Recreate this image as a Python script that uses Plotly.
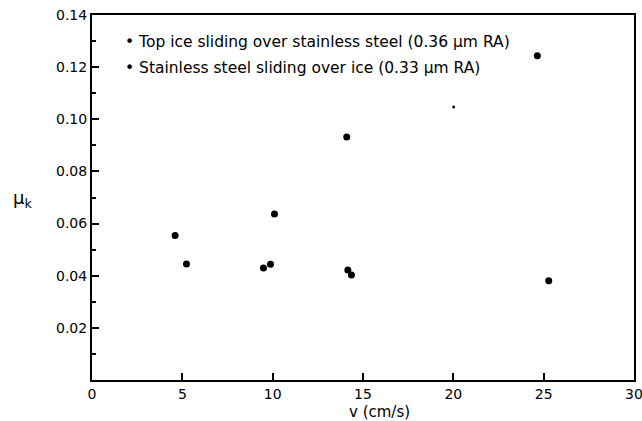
import plotly.graph_objects as go

# Kinetic friction coefficient vs sliding velocity
top_ice_v = [4.6, 10.1, 14.1, 24.65]
top_ice_mu = [0.0554, 0.0637, 0.0932, 0.1244]

steel_v = [5.23, 9.49, 9.88, 14.16, 14.36, 25.28]
steel_mu = [0.0445, 0.0430, 0.0444, 0.0422, 0.0403, 0.0381]

speck_v = [20.02]
speck_mu = [0.1047]

legend_labels = [
    "Top ice sliding over stainless steel (0.36 μm RA)",
    "Stainless steel sliding over ice (0.33 μm RA)",
]

x_ticks = [0, 5, 10, 15, 20, 25, 30]
y_ticks = [0.02, 0.04, 0.06, 0.08, 0.10, 0.12, 0.14]
y_tick_text = ["0.02", "0.04", "0.06", "0.08", "0.10", "0.12", "0.14"]

FONT = "DejaVu Sans"

fig = go.Figure()
fig.add_trace(go.Scatter(x=top_ice_v, y=top_ice_mu, mode="markers",
                         marker=dict(color="black", size=7),
                         name=legend_labels[0], showlegend=False))
fig.add_trace(go.Scatter(x=steel_v, y=steel_mu, mode="markers",
                         marker=dict(color="black", size=7),
                         name=legend_labels[1], showlegend=False))
fig.add_trace(go.Scatter(x=speck_v, y=speck_mu, mode="markers",
                         marker=dict(color="black", size=3),
                         showlegend=False, hoverinfo="skip"))

# Key, written as bulleted text lines inside the frame
for i, label in enumerate(legend_labels):
    fig.add_annotation(xref="paper", yref="paper", x=0.058, y=0.925 - i * 0.0715,
                       text="• " + label, showarrow=False, xanchor="left",
                       yanchor="middle", font=dict(family=FONT, size=15.5, color="black"))

fig.add_annotation(xref="paper", yref="paper", x=-0.128, y=0.497,
                   text="μ<sub>k</sub>", showarrow=False, xanchor="center",
                   yanchor="middle", font=dict(family=FONT, size=18, color="black"))
fig.add_annotation(xref="x", yref="paper", x=15.9, y=-0.058,
                   text="v (cm/s)", showarrow=False, xanchor="center",
                   yanchor="top", font=dict(family=FONT, size=15, color="black"))

fig.update_xaxes(range=[0, 30], tickvals=x_ticks, ticks="inside", ticklen=7,
                 tickwidth=1.5, tickcolor="black", showline=True, linecolor="black",
                 linewidth=2, mirror=True, showgrid=False, zeroline=False,
                 automargin=False, ticklabeloverflow="allow",
                 tickfont=dict(family=FONT, size=14, color="black"))
fig.update_yaxes(range=[0, 0.14], tickvals=y_ticks, ticktext=y_tick_text,
                 ticks="inside", ticklen=7, tickwidth=1.5, tickcolor="black",
                 minor=dict(dtick=0.01, ticks="inside", ticklen=4, tickcolor="black"),
                 showline=True, linecolor="black", linewidth=2, mirror=True,
                 showgrid=False, zeroline=False, automargin=False,
                 tickfont=dict(family=FONT, size=14, color="black"))

fig.update_layout(width=642, height=421, plot_bgcolor="white", paper_bgcolor="white",
                  margin=dict(l=92, r=8, t=15, b=41), showlegend=False)

fig.write_html("out.html")
